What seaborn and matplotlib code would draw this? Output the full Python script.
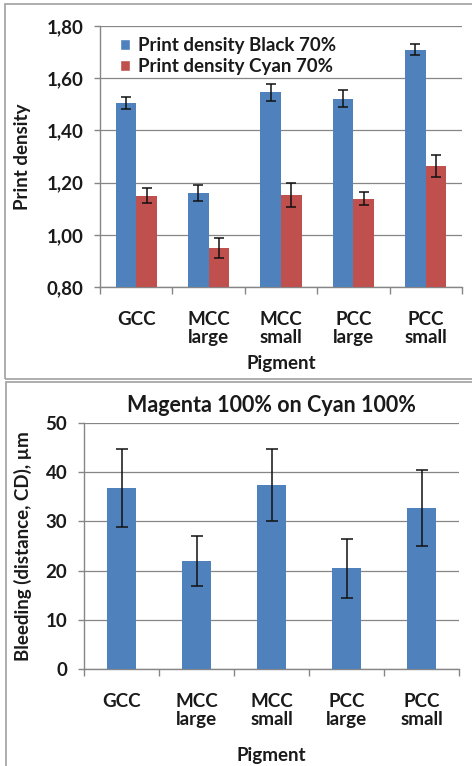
import matplotlib
matplotlib.use("Agg")
import matplotlib.pyplot as plt
from matplotlib.patches import Rectangle
from matplotlib.ticker import FuncFormatter, FixedLocator
import numpy as np
import pandas as pd
import seaborn as sns

# ---- data ----
pigments = ["GCC", "MCC\nlarge", "MCC\nsmall", "PCC\nlarge", "PCC\nsmall"]
series_names = ["Print density Black 70%", "Print density Cyan 70%"]
black_density = [1.505, 1.16, 1.546, 1.521, 1.709]
black_err = [0.023, 0.030, 0.033, 0.032, 0.021]
cyan_density = [1.149, 0.948, 1.152, 1.138, 1.264]
cyan_err = [0.029, 0.038, 0.046, 0.025, 0.041]

bleeding = [36.8, 21.9, 37.4, 20.5, 32.7]
bleeding_err = [8.0, 5.1, 7.3, 6.0, 7.8]

BLUE = "#4F81BD"
RED = "#C0504D"
GRID = "#868686"
TEXT = "#1a1a1a"
FS = 13.5

sns.set_theme(style="white")
plt.rcParams["font.family"] = ["Lato", "DejaVu Sans"]
plt.rcParams["font.weight"] = "bold"

W, H = 472, 766
fig = plt.figure(figsize=(W / 100, H / 100), dpi=100)
fig.patch.set_facecolor("white")


def fig_rect(x0, y0, x1, y1):
    """Axes rectangle from pixel coords (y measured from the top)."""
    return [x0 / W, 1 - y1 / H, (x1 - x0) / W, (y1 - y0) / H]


def style_axes(ax, ncat):
    ax.set_facecolor("white")
    for s in ["top", "right"]:
        ax.spines[s].set_visible(False)
    for s in ["left", "bottom"]:
        ax.spines[s].set_color(GRID)
        ax.spines[s].set_linewidth(1.0)
    ax.grid(axis="y", color=GRID, linewidth=0.9)
    ax.grid(axis="x", visible=False)
    ax.set_axisbelow(True)
    ax.set_xlim(-0.5, ncat - 0.5)
    ax.xaxis.set_minor_locator(FixedLocator(np.arange(-0.5, ncat, 1.0)))
    ax.tick_params(axis="x", which="major", length=0, pad=17,
                   labelsize=FS, colors=TEXT)
    ax.tick_params(axis="x", which="minor", length=5, width=1.0,
                   color=GRID, direction="out", bottom=True)
    ax.tick_params(axis="y", which="major", length=4, width=1.0,
                   color=GRID, direction="out", left=True,
                   labelsize=FS, pad=8, labelcolor=TEXT)
    for lab in ax.get_xticklabels() + ax.get_yticklabels():
        lab.set_fontweight("bold")
        lab.set_linespacing(1.1)


def add_errorbars(ax, container, errs, cap):
    xs = [p.get_x() + p.get_width() / 2 for p in container.patches]
    ys = [p.get_height() + p.get_y() for p in container.patches]
    ax.errorbar(xs, ys, yerr=errs, fmt="none", ecolor="#111111",
                elinewidth=1.1, capsize=cap, capthick=1.1, zorder=5)


# ---- top panel: print density ----
df_top = pd.DataFrame({
    "Pigment": pigments * 2,
    "value": black_density + cyan_density,
    "series": [series_names[0]] * len(pigments) + [series_names[1]] * len(pigments),
})
ax1 = fig.add_axes(fig_rect(100, 26, 462, 287))
sns.barplot(data=df_top, x="Pigment", y="value", hue="series",
            palette=[BLUE, RED], width=0.57, errorbar=None,
            saturation=1, ax=ax1, zorder=3)
for cont, errs in zip(ax1.containers, [black_err, cyan_err]):
    for p in cont.patches:
        p.set_edgecolor("none")
    add_errorbars(ax1, cont, errs, 3.3)

ax1.set_ylim(0.8, 1.8)
ax1.set_yticks(np.arange(0.8, 1.81, 0.2))
ax1.yaxis.set_major_formatter(FuncFormatter(lambda v, _: f"{v:.2f}".replace(".", ",")))
style_axes(ax1, len(pigments))
ax1.set_xlabel("Pigment", fontsize=FS, fontweight="bold", color=TEXT)
ax1.set_ylabel("Print density", fontsize=FS, fontweight="bold", color=TEXT)
ax1.xaxis.set_label_coords(0.5, -0.262)
ax1.yaxis.set_label_coords(-0.19, 0.5)

leg = ax1.legend(loc="upper left", bbox_to_anchor=(0.035, 0.985), frameon=False,
                 fontsize=FS, handlelength=0.5, handleheight=0.5,
                 handletextpad=0.45, labelspacing=0.2, borderaxespad=0)
for t in leg.get_texts():
    t.set_fontweight("bold")
    t.set_color(TEXT)

# ---- bottom panel: bleeding ----
df_bot = pd.DataFrame({"Pigment": pigments, "value": bleeding})
ax2 = fig.add_axes(fig_rect(84, 423, 459, 669))
sns.barplot(data=df_bot, x="Pigment", y="value", color=BLUE, width=0.39,
            errorbar=None, saturation=1, ax=ax2, zorder=3)
for p in ax2.containers[0].patches:
    p.set_edgecolor("none")
add_errorbars(ax2, ax2.containers[0], bleeding_err, 4.5)

ax2.set_ylim(0, 50)
ax2.set_yticks(np.arange(0, 51, 10))
style_axes(ax2, len(pigments))
ax2.set_title("Magenta 100% on Cyan 100%", fontsize=15.5, fontweight="bold",
              pad=8, color=TEXT)
ax2.set_xlabel("Pigment", fontsize=FS, fontweight="bold", color=TEXT)
ax2.set_ylabel("Bleeding (distance, CD), µm", fontsize=FS, fontweight="bold",
               color=TEXT)
ax2.xaxis.set_label_coords(0.5, -0.316)
ax2.yaxis.set_label_coords(-0.138, 0.5)

# ---- chart-area frames ----
for (x0, y0, x1, y1) in [(5, 4, 480, 379), (6, 382, 480, 780)]:
    fig.patches.append(Rectangle((x0 / W, 1 - y1 / H), (x1 - x0) / W, (y1 - y0) / H,
                                 transform=fig.transFigure, fill=False,
                                 edgecolor="#A0A0A0", linewidth=1.2, zorder=0))

fig.savefig("out.png", dpi=100, facecolor="white")
